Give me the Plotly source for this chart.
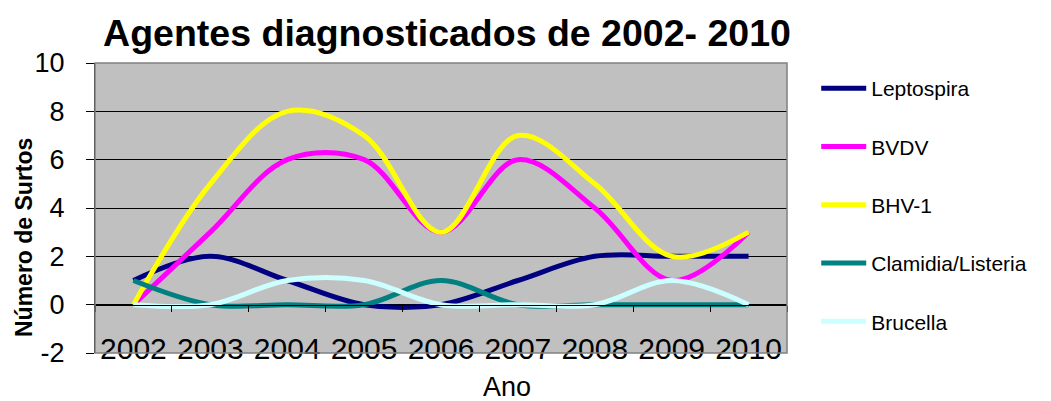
import plotly.graph_objects as go

# data
years = ["2002", "2003", "2004", "2005", "2006", "2007", "2008", "2009", "2010"]
leptospira = [1, 2, 1, 0, 0, 1, 2, 2, 2]
bvdv = [0, 3, 6, 6, 3, 6, 4, 1, 3]
bhv1 = [0, 5, 8, 7, 3, 7, 5, 2, 3]
clamidia = [1, 0, 0, 0, 1, 0, 0, 0, 0]
brucella = [0, 0, 1, 1, 0, 0, 0, 1, 0]

# y tick labels with a plain hyphen, as in the original
y_ticks = [-2, 0, 2, 4, 6, 8, 10]
y_labels = ["-2", "0", "2", "4", "6", "8", "10"]

series = [
    ("Leptospira", leptospira, "#000080"),
    ("BVDV", bvdv, "#FF00FF"),
    ("BHV-1", bhv1, "#FFFF00"),
    ("Clamidia/Listeria", clamidia, "#008080"),
    ("Brucella", brucella, "#CCFFFF"),
]

fig = go.Figure()
for name, vals, color in series:
    fig.add_trace(go.Scatter(
        x=years, y=vals, name=name, mode="lines",
        line=dict(color=color, width=5, shape="spline", smoothing=1),
        legendgroup=name,
    ))

font = "Arial, Liberation Sans, sans-serif"

fig.update_layout(
    width=1051, height=401,
    margin=dict(l=95, r=264, t=63, b=48),
    paper_bgcolor="white",
    plot_bgcolor="#C0C0C0",
    font=dict(family=font, color="black"),
    title=dict(
        text="<b>Agentes diagnosticados de 2002- 2010</b>",
        font=dict(size=37.5, family=font),
        x=447 / 1051, xanchor="center", y=0.918, yanchor="middle",
    ),
    xaxis=dict(
        type="category", anchor="free", position=1 / 6,
        range=[-0.5, len(years) - 0.5],
        showline=True, linecolor="black", linewidth=1,
        ticks="outside", ticklen=6, tickcolor="black", tickson="boundaries",
        ticklabelstandoff=17, tickangle=0, automargin=False,
        tickfont=dict(size=30), showgrid=False,
    ),
    yaxis=dict(
        range=[y_ticks[0], y_ticks[-1]],
        tickvals=y_ticks, ticktext=y_labels,
        showline=True, linecolor="black", linewidth=1,
        ticks="outside", ticklen=8, tickcolor="black",
        ticklabelstandoff=16, automargin=False,
        tickfont=dict(size=27),
        showgrid=True, gridcolor="black", gridwidth=1,
        zeroline=False,
    ),
    legend=dict(
        x=1.035, y=1.0, xanchor="left", yanchor="top",
        font=dict(size=21), tracegroupgap=28, itemwidth=45,
        bgcolor="rgba(0,0,0,0)", bordercolor="rgba(0,0,0,0)", borderwidth=5,
    ),
    showlegend=True,
)

fig.add_shape(type="rect", xref="paper", yref="paper", x0=0, x1=1, y0=0, y1=1,
              line=dict(color="#808080", width=1.5))

fig.add_annotation(text="<b>Número de Surtos</b>", textangle=-90,
                   xref="paper", yref="paper", x=(24 - 95) / 692, y=(353 - 238) / 290,
                   xanchor="center", yanchor="middle",
                   showarrow=False, font=dict(size=23))
fig.add_annotation(text="Ano", xref="paper", yref="paper",
                   x=(507 - 95) / 692, y=(353 - 387) / 290,
                   xanchor="center", yanchor="middle",
                   showarrow=False, font=dict(size=27))

# remove the default page margin so the figure sits at the window's corner
fig.write_html("out.html", config={"displayModeBar": False},
               post_script="document.body.style.margin='0';")
